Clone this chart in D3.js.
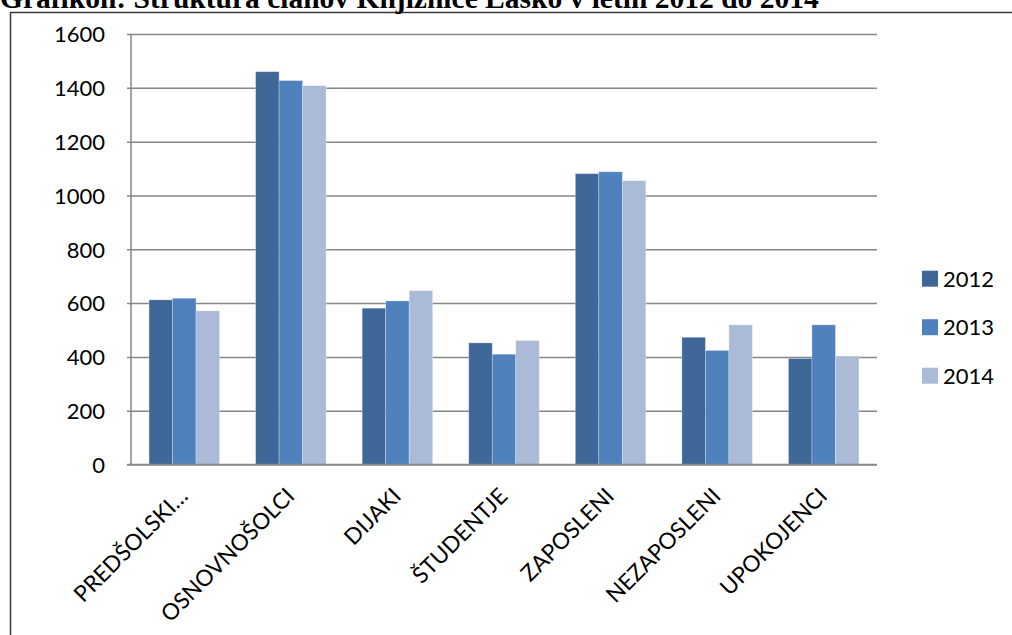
<!DOCTYPE html>
<html><head><meta charset="utf-8">
<script src="https://cdn.jsdelivr.net/npm/d3@7"></script>
<style>body{margin:0;background:#fff;} svg{display:block;}</style>
</head><body>
<svg id="c" width="1012" height="635"></svg>
<script>
const categories = ["PREDŠOLSKI…", "OSNOVNOŠOLCI", "DIJAKI", "ŠTUDENTJE", "ZAPOSLENI", "NEZAPOSLENI", "UPOKOJENCI"];
const seriesNames = ["2012", "2013", "2014"];
const values2012 = [612, 1460, 581, 452, 1081, 473, 394];
const values2013 = [618, 1427, 608, 410, 1088, 424, 519];
const values2014 = [571, 1408, 646, 461, 1055, 519, 403];
const yTicks = [0, 200, 400, 600, 800, 1000, 1200, 1400, 1600];
const colors = ["#3F6899", "#4F81BD", "#AABAD7"];
const title = "Grafikon: Struktura članov Knjižnice Laško v letih 2012 do 2014";

const series = [values2012, values2013, values2014];
const svg = d3.select("#c");
const L = 131, R = 877, T = 34, B = 464.5;

// frame
svg.append("path").attr("d", `M10.5,635 V12.5 H1012`).attr("fill","none").attr("stroke","#3a3a3a").attr("stroke-width",1.5);
// title
svg.append("text").attr("x", 0).attr("y", 8).text(title)
  .attr("font-family","'Liberation Serif','Times New Roman',serif").attr("font-weight","bold")
  .attr("font-size", 29.5).attr("fill","#000");

const x = d3.scaleBand().domain(categories).range([L, R]).paddingInner(0).paddingOuter(0);
const y = d3.scaleLinear().domain([0, 1600]).range([B, T]);
const inner = 70.5;
const xs = d3.scaleBand().domain(seriesNames).range([(x.bandwidth()-inner)/2, (x.bandwidth()+inner)/2]);

// gridlines
const yAxis = d3.axisLeft(y).tickValues(yTicks).tickSize(-(R-L)).tickSizeOuter(0).tickPadding(26).tickFormat(d3.format("d"));
const ga = svg.append("g").attr("transform",`translate(${L},0)`).call(yAxis);
ga.select(".domain").remove();
ga.selectAll(".tick line").attr("stroke","#868686").attr("stroke-width",1.5).attr("x1",-4);
ga.selectAll(".tick text").attr("font-family","Lato, 'Open Sans', sans-serif").attr("font-size",22).attr("fill","#000").attr("dy","0.36em");

// bars
categories.forEach((c, i) => {
  series.forEach((s, k) => {
    svg.append("rect")
      .attr("x", x(c) + xs(seriesNames[k]))
      .attr("y", y(s[i]))
      .attr("width", xs.bandwidth())
      .attr("height", y(0) - y(s[i]))
      .attr("fill", colors[k])
      .attr("stroke", "rgba(255,255,255,0.35)").attr("stroke-width", 0.8);
  });
});

// axes lines
svg.append("line").attr("x1",L).attr("x2",L).attr("y1",T).attr("y2",B).attr("stroke","#868686").attr("stroke-width",1.5);
svg.append("line").attr("x1",L-4).attr("x2",R).attr("y1",B).attr("y2",B).attr("stroke","#868686").attr("stroke-width",1.5);

// x labels
const xAxis = d3.axisBottom(x).tickSize(0).tickSizeOuter(0);
const gx = svg.append("g").attr("transform",`translate(0,${B})`).call(xAxis);
gx.select(".domain").remove();
gx.selectAll(".tick text")
  .attr("font-family","Lato, 'Open Sans', sans-serif").attr("font-size",22.5).attr("fill","#000")
  .attr("text-anchor","end").attr("dy",null).attr("y",null)
  .attr("transform","translate(5,33) rotate(-45)");

// legend
const lg = svg.append("g");
seriesNames.forEach((n, k) => {
  const cy = 278.7 + k*48.5;
  lg.append("rect").attr("x",922).attr("y",cy-8).attr("width",16).attr("height",16).attr("fill",colors[k]);
  lg.append("text").attr("x",943).attr("y",cy).attr("dy","0.36em").text(n)
    .attr("font-family","Lato, 'Open Sans', sans-serif").attr("font-size",22).attr("fill","#000");
});
</script>
</body></html>
